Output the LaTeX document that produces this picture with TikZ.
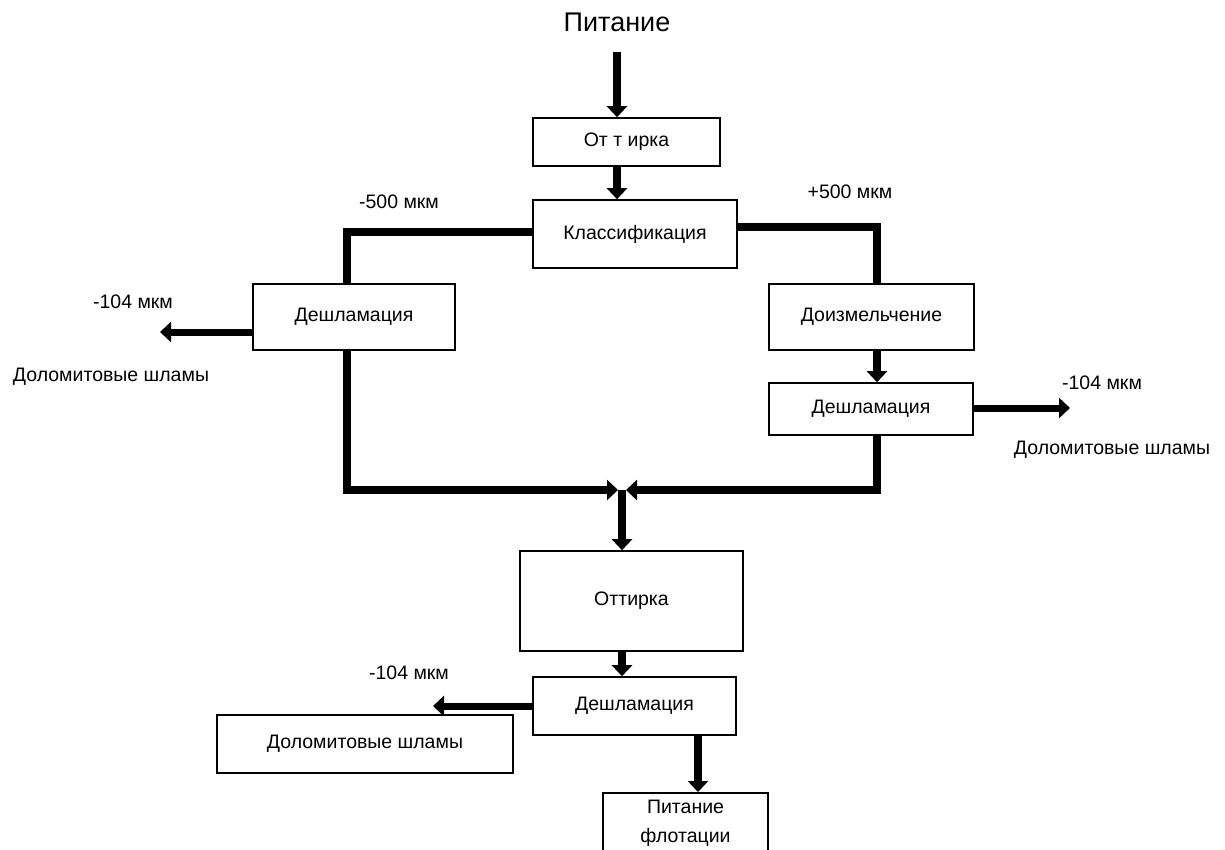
\documentclass[tikz,border=0pt]{standalone}
\usepackage{fontspec}
\setmainfont{Liberation Sans}
\usetikzlibrary{arrows.meta,positioning}

\begin{document}
\begin{tikzpicture}[
                        x=1pt, y=-1pt,
                        >={Triangle[width=20pt,length=11pt]},
                        font=\fontsize{19.5}{22}\selectfont
                    ]
                    \tikzstyle{box}=[draw=black,line width=1.6pt,fill=white,inner sep=0pt,align=center]
                    \tikzstyle{flow}=[line width=8pt]
                    \tikzstyle{side}=[line width=7pt]

                    \useasboundingbox (0,0) rectangle (1225,849);

                    \node (P) at (617,22) {\fontsize{27}{30}\selectfont Питание};
                    \node[box,minimum width=187pt,minimum height=48pt] (O1) at (626.5,142) {От т ирка};
                    \node[box,minimum width=204pt,minimum height=68pt] (K) at (635,234) {Классификация};
                    \node[box,minimum width=202pt,minimum height=66pt] (D1) at (354,317) {Дешламация};
                    \node[box,minimum width=205pt,minimum height=66pt] (Z) at (871.5,317) {Доизмельчение};
                    \node[box,minimum width=204pt,minimum height=52pt] (D2) at (871,409) {Дешламация};
                    \node[box,minimum width=223pt,minimum height=100pt] (O2) at (631.5,601) {Оттирка};
                    \node[box,minimum width=203pt,minimum height=58pt] (D3) at (634.5,706) {Дешламация};
                    \node[box,minimum width=296pt,minimum height=58pt] (S) at (365,744) {Доломитовые шламы};
                    \node[box,minimum width=165pt,minimum height=61pt,anchor=north,
                          font=\fontsize{19.5}{29}\selectfont] (F) at (685.5,792) {Питание\\флотации};

                    % free ends
                    \coordinate (M) at (622,490);
                    \coordinate (L1) at (160,332);
                    \coordinate (R1) at (1070,408);
                    \coordinate (B1) at (433,706);

                    % labels
                    \node (l500) at (399,202) {-500 мкм};
                    \node (r500) at (850,192) {+500 мкм};
                    \node (l104) at (133,302) {-104 мкм};
                    \node (lsl) at (111,377) {Доломитовые шламы};
                    \node (r104) at (1102,383) {-104 мкм};
                    \node (rsl) at (1112,450) {Доломитовые шламы};
                    \node (b104) at (409,673) {-104 мкм};

                    % main line
                    \draw[flow,->,shorten <=17pt] (P.south) -- (P.south |- O1.north);
                    \draw[flow,->] (O1.south -| P.south) -- (K.north -| P.south);

                    % left branch
                    \draw[flow] ([yshift=2pt]K.west) -| ([xshift=-7pt]D1.north);
                    \draw[flow,->] ([xshift=-7pt]D1.south) |- ([xshift=-4pt]M);
                    \draw[side,->] (L1 -| D1.west) -- (L1);

                    % right branch
                    \draw[flow] ([yshift=7pt]K.east) -| ([xshift=5.5pt]Z.north);
                    \draw[flow,->] ([xshift=5.5pt]Z.south) -- ([xshift=6pt]D2.north);
                    \draw[flow,->] ([xshift=6pt]D2.south) |- ([xshift=4pt]M);
                    \draw[side,->] (R1 -| D2.east) -- (R1);

                    % bottom
                    \draw[flow,->] (M) -- (M |- O2.north);
                    \draw[flow,->] (O2.south -| M) -- (D3.north -| M);
                    \draw[side,->] (B1 -| D3.west) -- (B1);
                    \draw[flow,->] ([xshift=63.5pt]D3.south) -- ([xshift=63.5pt]D3.south |- F.north);
                \end{tikzpicture}
\end{document}
